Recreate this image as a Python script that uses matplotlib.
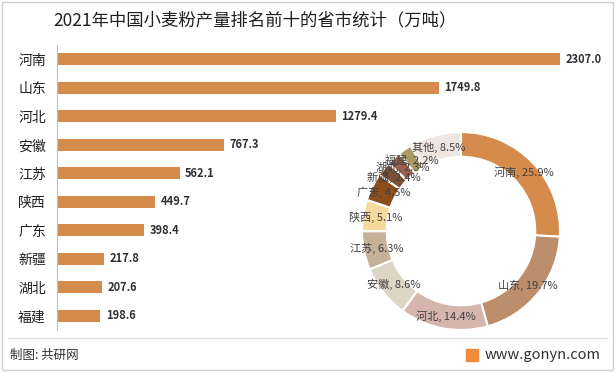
import numpy as np
import matplotlib.pyplot as plt
from matplotlib.lines import Line2D
from matplotlib.patches import Rectangle

plt.rcParams['font.family'] = ['Noto Sans CJK SC', 'DejaVu Sans']

# data
provinces = ['河南', '山东', '河北', '安徽', '江苏', '陕西', '广东', '新疆', '湖北', '福建']
output = [2307.0, 1749.8, 1279.4, 767.3, 562.1, 449.7, 398.4, 217.8, 207.6, 198.6]

share_labels = ['河南', '山东', '河北', '安徽', '江苏', '陕西', '广东', '新疆', '湖北', '福建', '其他']
share_pct = [25.9, 19.7, 14.4, 8.6, 6.3, 5.1, 4.5, 2.4, 2.3, 2.2, 8.5]
share_colors = ['#D48B4C', '#BC8E6C', '#D5B6AC', '#DED6C4', '#C5B196', '#F8D99D',
                '#8B4E1C', '#7D5035', '#9A6150', '#A99B63', '#EFE6E1']

W, H = 615, 372
fig = plt.figure(figsize=(W / 100, H / 100), dpi=100)

# border
fig.patches.append(Rectangle((2 / W, 2 / H), 1 - 4 / W, 1 - 4 / H, transform=fig.transFigure,
                             fill=False, edgecolor='#D0D0D0', linewidth=1))

fig.text(255 / W, 1 - 20 / H, '2021年中国小麦粉产量排名前十的省市统计（万吨）',
         ha='center', va='center', fontsize=12.5, color='#202020')

# bar chart
ax = fig.add_axes([57 / W, 1 - 330 / H, (560 - 57) / W, 285 / H])
y = np.arange(len(provinces))
ax.barh(y, output, height=0.42, color='#D48B4C')
ax.set_xlim(0, 2307)
ax.set_ylim(len(provinces) - 0.5, -0.5)
ax.set_yticks(y)
ax.set_yticklabels(provinces, fontsize=10, color='#202020')
ax.tick_params(axis='y', length=0, pad=8)
ax.set_xticks([])
for s in ['top', 'right', 'bottom']:
    ax.spines[s].set_visible(False)
ax.spines['left'].set_color('#BFBFBF')
ax.patch.set_alpha(0)
for yi, v in zip(y, output):
    ax.annotate(f'{v:.1f}', (v, yi), xytext=(4, 0), textcoords='offset points',
                ha='left', va='center', fontsize=8, fontweight='bold', color='#303030',
                annotation_clip=False)

# donut
cx, cy, r = 461, 231, 99
pax = fig.add_axes([(cx - r) / W, 1 - (cy + r) / H, 2 * r / W, 2 * r / H])
wedges, _ = pax.pie(share_pct, colors=share_colors, startangle=90, counterclock=False,
                    radius=1.0, wedgeprops=dict(width=0.25, edgecolor='white', linewidth=1.5))
pax.set_xlim(-1, 1)
pax.set_ylim(-1, 1)
pax.set_aspect('auto')
for w, name, p in zip(wedges, share_labels, share_pct):
    ang = np.deg2rad((w.theta1 + w.theta2) / 2)
    pax.text(0.87 * np.cos(ang), 0.87 * np.sin(ang), f'{name}, {p}%',
             ha='center', va='center', fontsize=8, color='#404040')

# footer
fig.add_artist(Line2D([8 / W, 1 - 8 / W], [1 - 338 / H, 1 - 338 / H], color='#E0E0E0', linewidth=1))
fig.text(10 / W, 1 - 355 / H, '制图: 共研网', ha='left', va='center', fontsize=9, color='#303030')
fig.patches.append(Rectangle((466 / W, 1 - 361 / H), 12 / W, 12 / H, transform=fig.transFigure,
                             color='#F28C3A'))
fig.text(601 / W, 1 - 355 / H, 'www.gonyn.com', ha='right', va='center', fontsize=10.5, color='#303030')

fig.savefig('out.png', dpi=100)
